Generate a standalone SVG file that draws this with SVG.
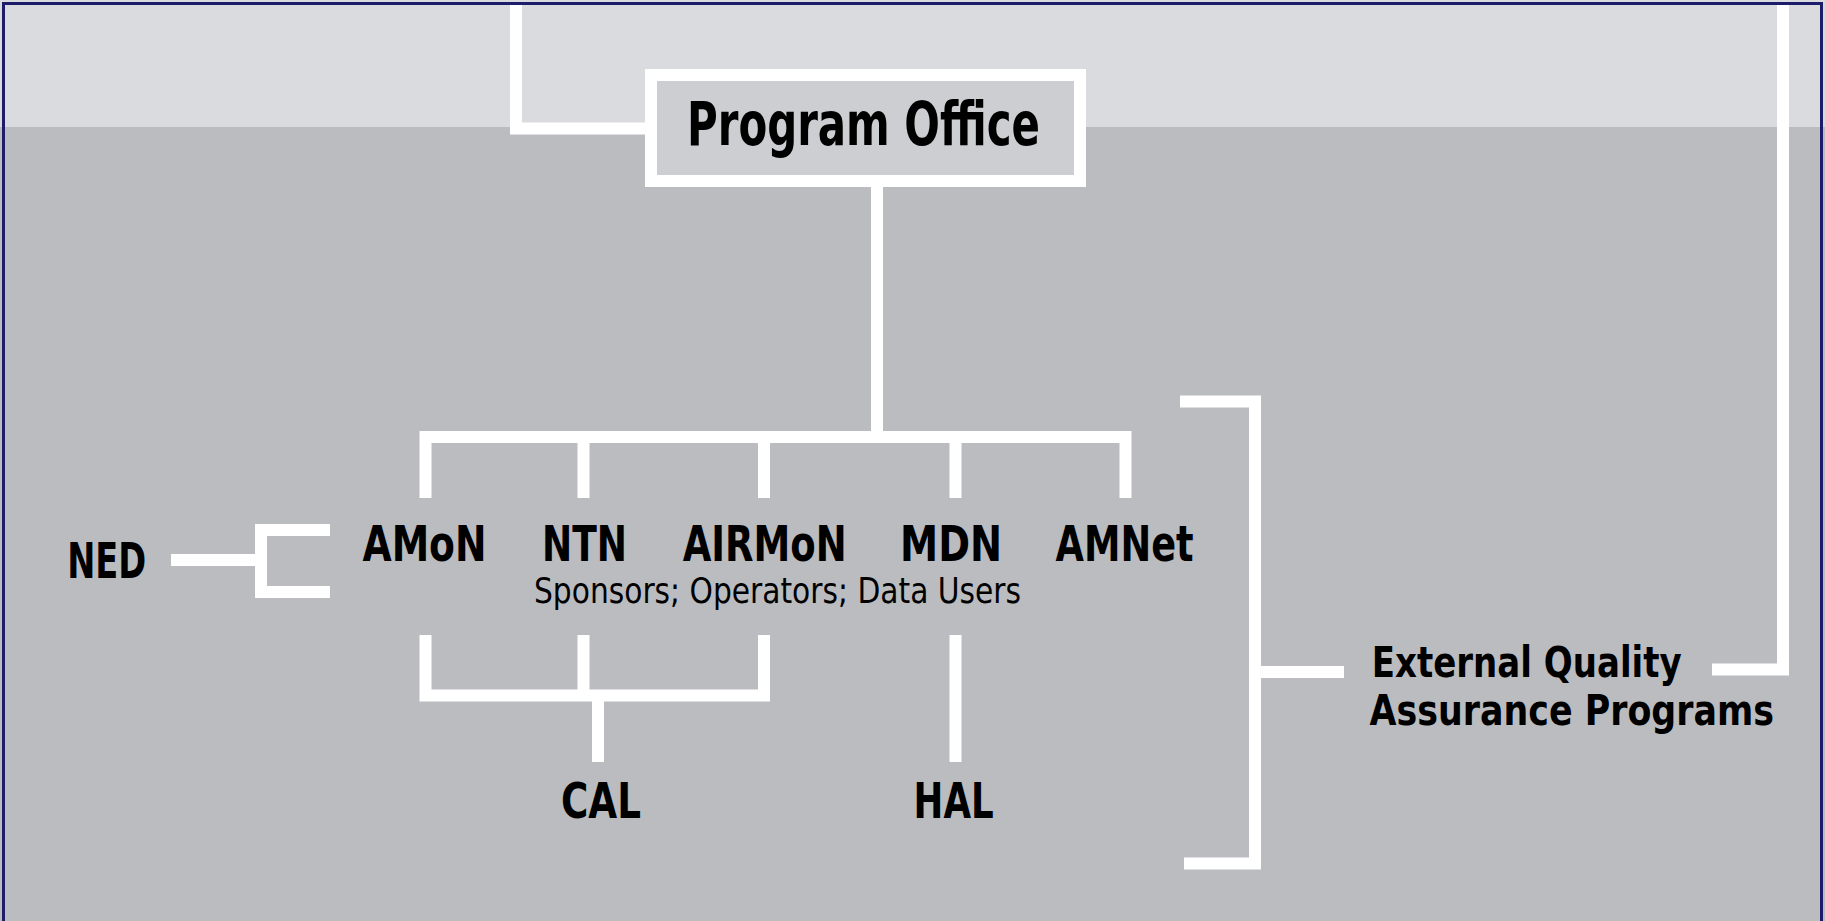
<svg xmlns="http://www.w3.org/2000/svg" width="1825" height="921" viewBox="0 0 1825 921">
<style>
.lbl{font-family:"Liberation Sans Narrow","DejaVu Sans Condensed","Liberation Sans",sans-serif;font-weight:bold;fill:#000;}
.big{font-size:49px;text-anchor:middle;}
.sub{font-family:"Liberation Sans Narrow","DejaVu Sans Condensed","Liberation Sans",sans-serif;font-size:36px;fill:#000;text-anchor:middle;}
.ln{fill:none;stroke:#ffffff;stroke-width:12;stroke-linecap:butt;stroke-linejoin:miter;}
</style>
<rect x="0" y="0" width="1825" height="921" fill="#bbbcc0"/>
<rect x="0" y="0" width="1825" height="127" fill="#dadbdf"/>
<rect x="3.5" y="3.5" width="1818" height="930" fill="none" stroke="#1c1c6b" stroke-width="3"/>
<g id="connectors">
<path class="ln" d="M516,5 V128.5 H646"/>
<path class="ln" d="M1712,669.5 H1783 V5"/>
<path class="ln" d="M877,187 V437 M425.5,498 V437 H1125.5 V498 M583.5,437 V498 M764,437 V498 M955.5,437 V498"/>
<path class="ln" d="M171,560 H261 M330,530 H261 V592 H330"/>
<path class="ln" d="M425.5,635 V695.5 H764 V635 M583.5,635 V695.5 M598,695.5 V762"/>
<path class="ln" d="M955.5,635 V762"/>
<path class="ln" d="M1180,401.5 H1255 V863.5 H1184 M1255,672 H1344"/>
</g>
<g id="program-office">
<rect x="651" y="75" width="429" height="106" fill="#cdced2" stroke="#ffffff" stroke-width="12"/>
<text class="lbl" x="863.5" y="145" font-size="60" text-anchor="middle" textLength="353" lengthAdjust="spacingAndGlyphs">Program Office</text>
</g>
<g id="ned"><text class="lbl big" x="106.7" y="577.7" textLength="79" lengthAdjust="spacingAndGlyphs">NED</text></g>
<g id="amon"><text class="lbl big" x="424.5" y="561" textLength="124" lengthAdjust="spacingAndGlyphs">AMoN</text></g>
<g id="ntn"><text class="lbl big" x="584.5" y="561" textLength="85" lengthAdjust="spacingAndGlyphs">NTN</text></g>
<g id="airmon"><text class="lbl big" x="764.7" y="561" textLength="164" lengthAdjust="spacingAndGlyphs">AIRMoN</text></g>
<g id="mdn"><text class="lbl big" x="951" y="561" textLength="102" lengthAdjust="spacingAndGlyphs">MDN</text></g>
<g id="amnet"><text class="lbl big" x="1124.6" y="561" textLength="138" lengthAdjust="spacingAndGlyphs">AMNet</text></g>
<g id="sponsors"><text class="sub" x="777.5" y="603" textLength="487" lengthAdjust="spacingAndGlyphs">Sponsors; Operators; Data Users</text></g>
<g id="cal"><text class="lbl big" x="601" y="818" textLength="80" lengthAdjust="spacingAndGlyphs">CAL</text></g>
<g id="hal"><text class="lbl big" x="953.6" y="818" textLength="80" lengthAdjust="spacingAndGlyphs">HAL</text></g>
<g id="eqap">
<text class="lbl" x="1371.7" y="676.7" font-size="42" textLength="310" lengthAdjust="spacingAndGlyphs">External Quality</text>
<text class="lbl" x="1369.5" y="725" font-size="42" textLength="404.5" lengthAdjust="spacingAndGlyphs">Assurance Programs</text>
</g>
</svg>
